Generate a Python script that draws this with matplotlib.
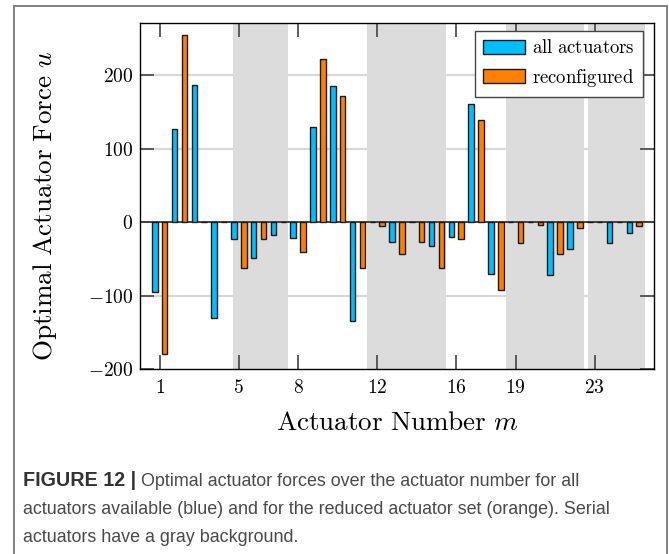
import numpy as np
import matplotlib
matplotlib.use('Agg')
import matplotlib.pyplot as plt
from matplotlib.patches import Rectangle

plt.rcParams['mathtext.fontset'] = 'cm'
plt.rcParams['font.family'] = ['DejaVu Serif']

# Data
actuators = np.arange(1, 26)
force_all = [-95, 127, 186, -130, -23, -49, -17, -21, 129, 185, -135, 0, -27,
             0, -33, -20, 161, -71, 0, 0, -72, -37, 0, -29, -15]
force_reconf = [-180, 254, 0, 0, -62, -23, 0, -41, 222, 172, -62, -6, -44,
                -27, -63, -23, 139, -92, -29, -4, -44, -8, 0, 0, -6]
# serial actuators (gray background spans on the actuator axis)
serial_spans = [(4.69, 7.51), (11.47, 15.50), (18.50, 22.45), (22.65, 25.53)]
xticks = [1, 5, 8, 12, 16, 19, 23]
yticks = [-200, -100, 0, 100, 200]

c_blue = '#00BFFF'
c_orange = '#FF8000'

W, H = 669, 554
fig = plt.figure(figsize=(W/100, H/100), dpi=100)
fig.patch.set_facecolor('white')

# outer frame of the figure panel
fig.add_artist(Rectangle((14/W, -0.05), (667-14)/W, 1.05 - 6/H, transform=fig.transFigure,
                         fill=False, edgecolor='#777777', linewidth=1.3))

ax = fig.add_axes([140/W, (H-369)/H, (654-140)/W, (369-23)/H])

for lo, hi in serial_spans:
  ax.axvspan(lo, hi, color='#dcdcdc', zorder=1, linewidth=0)

for yv in [-100, 100, 200]:
  ax.axhline(yv, color='#d8d8d8', linewidth=1.6, zorder=0.5)
ax.axhline(0, color='#444444', linewidth=1.4, zorder=2)

w = 0.28
ax.bar(actuators - 0.25, force_all, width=w, color=c_blue, edgecolor='#1a1a1a',
       linewidth=1.0, zorder=3, label='all actuators')
ax.bar(actuators + 0.25, force_reconf, width=w, color=c_orange, edgecolor='#1a1a1a',
       linewidth=1.0, zorder=3, label='reconfigured')

ax.set_xlim(0, 26)
ax.set_ylim(-200, 271)
ax.set_xticks(xticks)
ax.set_xticklabels([r'$%d$' % t for t in xticks])
ax.set_yticks(yticks)
ax.set_yticklabels([r'$%d$' % t if t >= 0 else r'$-%d$' % -t for t in yticks])
ax.tick_params(axis='both', direction='in', length=10, width=1.2, color='#444444',
               top=True, right=True, labelsize=14)
ax.tick_params(axis='x', pad=7)
ax.tick_params(axis='y', pad=5)
for sp in ax.spines.values():
  sp.set_linewidth(1.0)
  sp.set_zorder(4)

ax.set_xlabel(r'$\mathrm{Actuator\ Number}\ m$', fontsize=19.5, labelpad=9)
ax.set_ylabel(r'$\mathrm{Optimal\ Actuator\ Force}\ u$', fontsize=19.5)
ax.yaxis.set_label_coords(-0.158, 0.47)

leg = ax.legend(loc='upper right', bbox_to_anchor=(0.9786, 0.977),
                prop={'size': 13.5, 'family': 'serif'}, fancybox=False, framealpha=1,
                edgecolor='#444444', handlelength=2.25, handleheight=0.75,
                handletextpad=0.35, labelspacing=0.5, borderpad=0.45, borderaxespad=0)
leg.get_frame().set_linewidth(1.0)
for t in leg.get_texts():
  t.set_text(r'$\mathrm{%s}$' % t.get_text().replace(' ', r'\ '))

# caption
cap_font = 'Liberation Sans'
cap_size = 12.9
cap_color = '#4a4a4a'
lines_y = [481, 509, 537]
fig.text(23/W, 1 - lines_y[0]/H, 'FIGURE 12 |', fontsize=14.2, fontweight='bold',
         family=cap_font, color='#333333', va='center', ha='left')
fig.text(141/W, 1 - lines_y[0]/H, 'Optimal actuator forces over the actuator number for all',
         fontsize=cap_size, family=cap_font, color=cap_color, va='center', ha='left')
fig.text(23/W, 1 - lines_y[1]/H,
         'actuators available (blue) and for the reduced actuator set (orange). Serial',
         fontsize=cap_size, family=cap_font, color=cap_color, va='center', ha='left')
fig.text(23/W, 1 - lines_y[2]/H, 'actuators have a gray background.',
         fontsize=cap_size, family=cap_font, color=cap_color, va='center', ha='left')

fig.savefig('out.png', dpi=100)
